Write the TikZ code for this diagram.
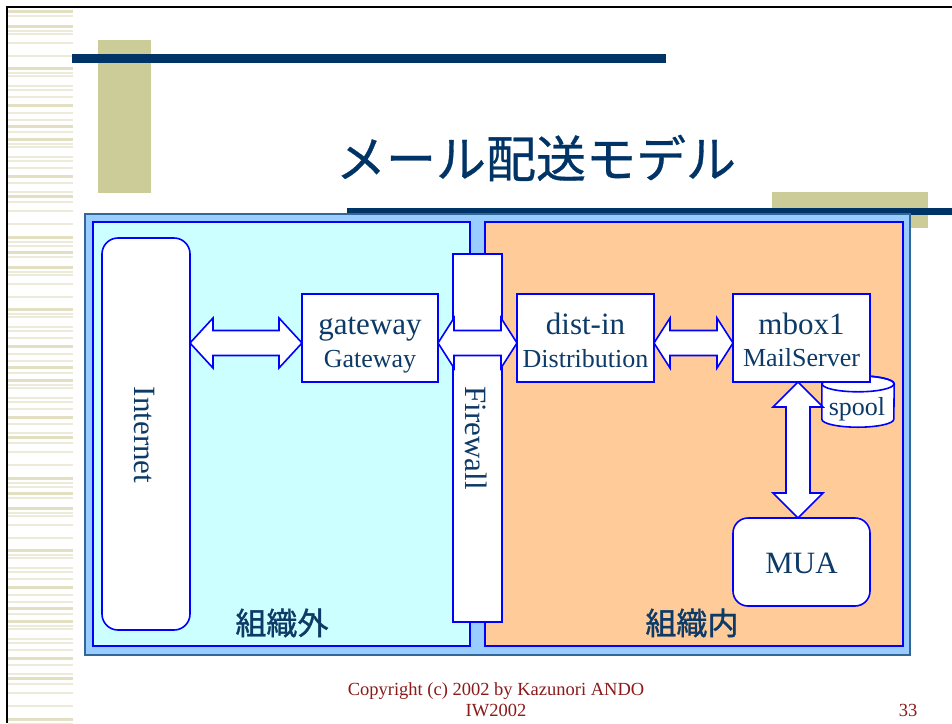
\documentclass[tikz,border=0pt]{standalone}
\usepackage{fontspec}
\setmainfont{Liberation Serif}
\newfontfamily\jpfont[FakeBold=1.2]{Noto Sans CJK JP}
\newfontfamily\jptitle[FakeBold=0.6]{Noto Sans CJK JP}
\usetikzlibrary{calc}
\definecolor{navy}{HTML}{003366}
\definecolor{beige}{HTML}{CCCC99}
\definecolor{outerblue}{HTML}{99CCFF}
\definecolor{outeredge}{HTML}{336699}
\definecolor{cyanbg}{HTML}{CCFFFF}
\definecolor{orangebg}{HTML}{FFCC99}
\definecolor{linblue}{HTML}{0000FF}
\definecolor{txt}{HTML}{0D3A66}
\definecolor{foot}{HTML}{8B1A1A}
\definecolor{stripeA}{HTML}{E2DFC3}
\definecolor{stripeB}{HTML}{ECEAD8}
\newcommand\hdarrow[3]{%
  \draw[darr] (#1) -- ($(#1)+(#3,-25)$) -- ($(#1)+(#3,-12.5)$) -- ($(#2)+(-#3,-12.5)$)
    -- ($(#2)+(-#3,-25)$) -- (#2) -- ($(#2)+(-#3,25)$) -- ($(#2)+(-#3,12.5)$)
    -- ($(#1)+(#3,12.5)$) -- ($(#1)+(#3,25)$) -- cycle;}
\newcommand\vdarrow[3]{%
  \draw[darr] (#1) -- ($(#1)+(-25,#3)$) -- ($(#1)+(-12,#3)$) -- ($(#2)+(-12,-#3)$)
    -- ($(#2)+(-25,-#3)$) -- (#2) -- ($(#2)+(25,-#3)$) -- ($(#2)+(12,-#3)$)
    -- ($(#1)+(12,#3)$) -- ($(#1)+(25,#3)$) -- cycle;}
\begin{document}
\begin{tikzpicture}[x=1pt,y=-1pt,
  boxst/.style={draw=linblue, line width=1.6pt, fill=white, inner sep=0pt, outer sep=0pt},
  darr/.style={draw=linblue, line width=1.6pt, fill=white, line join=miter},
  big/.style={font=\fontsize{31}{34}\selectfont, text=txt, inner sep=0pt},
  small/.style={font=\fontsize{26}{29}\selectfont, text=txt, inner sep=0pt},
  jp/.style={font=\jpfont\fontsize{31}{34}\selectfont, text=txt, inner sep=0pt},
  ft/.style={font=\fontsize{18.5}{21}\selectfont, text=foot, inner sep=0pt, anchor=base}]
\useasboundingbox (0,0) rectangle (952,723);
\fill[white] (0,0) rectangle (952,723);
% stripes
\begin{scope}
\clip (8,10) rectangle (74,723);
\foreach \b in {-241,0,241,482}{
  \foreach \o in {0,11,26,29,38,51,68,71,81,85,92,108,115,127,139,142,152,156,163,178,187,197,206,219,237}
    \fill[stripeB] (8,{246+\b+\o-0.7}) rectangle (73,{246+\b+\o+0.7});
  \foreach \o in {6,21,63,100,121,134,171,191,232}
    \fill[stripeA] (8,{246+\b+\o-1.5}) rectangle (73,{246+\b+\o+1.5});
}
\end{scope}
% frame
\draw[black, line width=2.2pt] (7,723) -- (7,7) -- (952,7);
% decorations
\fill[beige] (98,40) rectangle (151,193);
\fill[beige] (772,192) rectangle (928,228);
\fill[navy] (72,54) rectangle (666,63);
\fill[navy] (347,208) rectangle (952,215);
\node[font=\jptitle\fontsize{50}{56}\selectfont, text=navy, inner sep=0pt] (title) at (536,158) {メール配送モデル};
% regions
\draw[outeredge, fill=outerblue, line width=1.2pt] (85,214) rectangle (910,655);
\draw[linblue, fill=cyanbg, line width=1.6pt] (93,222) rectangle (470,646);
\draw[linblue, fill=orangebg, line width=1.6pt] (485,222) rectangle (903,646);
% nodes
\node[boxst, rounded corners=16pt, minimum width=88pt, minimum height=392pt] (internet) at (146,434) {};
\node[big, rotate=-90] (internetlbl) at (144,435) {Internet};
\node[boxst, minimum width=49pt, minimum height=368pt] (firewall) at (477.5,438) {};
\node[big, rotate=-90] (firewalllbl) at (476,438) {Firewall};
\node[boxst, minimum width=136pt, minimum height=88pt] (gw) at (370,338) {};
\node[big, anchor=base] (gwa) at (370,334) {gateway};
\node[small, anchor=base] (gwb) at (370,367) {Gateway};
\node[boxst, minimum width=137pt, minimum height=88pt] (dist) at (585.5,338) {};
\node[big, anchor=base] (dista) at (585.5,334) {dist-in};
\node[small, anchor=base] (distb) at (585.5,367) {Distribution};
% spool cylinder
\node[inner sep=0pt, minimum width=72pt, minimum height=51pt] (spool) at (858,401.5) {};
\draw[linblue, line width=1.6pt, fill=white] ($(spool.north west)+(0,8)$) -- ($(spool.south west)+(0,-8)$)
  arc[start angle=180, end angle=360, x radius=36pt, y radius=8pt]
  -- ($(spool.north east)+(0,8)$)
  arc[start angle=0, end angle=180, x radius=36pt, y radius=8pt] -- cycle;
\draw[linblue, line width=1.6pt] ($(spool.north)+(0,8)$) ellipse[x radius=36pt, y radius=8pt];
\node[small, anchor=base] (spoollbl) at (857,415) {spool};
\node[boxst, minimum width=137pt, minimum height=88pt] (mbox) at (801.5,338) {};
\node[big, anchor=base] (mboxa) at (801.5,334) {mbox1};
\node[small, anchor=base] (mboxb) at (801.5,366) {MailServer};
\node[boxst, rounded corners=15pt, minimum width=137pt, minimum height=88pt] (mua) at (801.5,562) {};
\node[big, anchor=base] (mualbl) at (801.5,573) {MUA};
% arrows
\coordinate (lvl) at (0,343);
\coordinate (vx) at (798,0);
\hdarrow{internet.east |- lvl}{gw.west |- lvl}{23}
\hdarrow{gw.east |- lvl}{dist.west |- lvl}{16}
\hdarrow{dist.east |- lvl}{mbox.west |- lvl}{16}
\vdarrow{vx |- mbox.south}{vx |- mua.north}{25}
% region labels
\node[jp] (outside) at (282,623) {組織外};
\node[jp] (inside) at (692,623) {組織内};
% footer
\node[ft] (copy) at (496,695) {Copyright (c) 2002 by Kazunori ANDO};
\node[ft] (iw) at (496,716) {IW2002};
\node[ft] (page) at (908,716) {33};
\end{tikzpicture}
\end{document}
